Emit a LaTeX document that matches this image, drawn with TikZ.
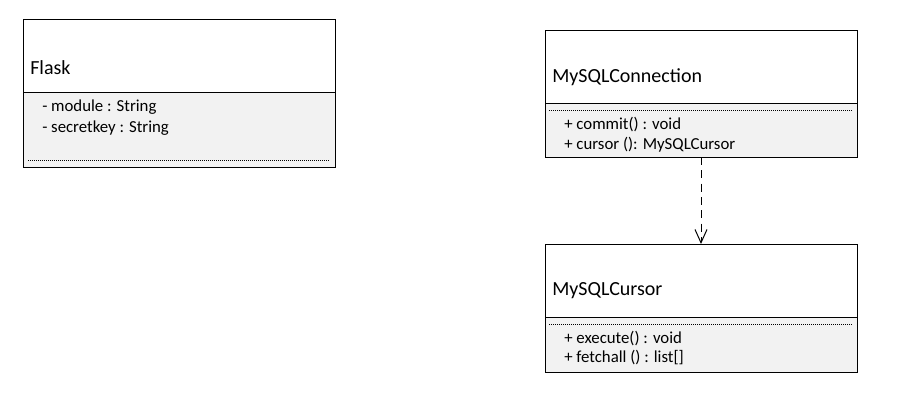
\documentclass[tikz,border=0pt]{standalone}
\usepackage{fontspec}
\setmainfont{Carlito}
\usetikzlibrary{arrows.meta}
\definecolor{bodygray}{HTML}{F2F2F2}
\tikzset{
  box/.style={draw=black, line width=0.75pt, inner sep=0pt, outer sep=0pt, anchor=north west, minimum width=234pt},
  header/.style={box, fill=white, minimum height=54.75pt},
  classbody/.style={box, fill=bodygray},
  titletext/.style={anchor=west, inner sep=0pt, font=\fontsize{15}{18}\selectfont},
  attrtext/.style={anchor=west, inner sep=0pt, font=\fontsize{12.6}{15}\selectfont},
  dotline/.style={line width=0.4pt, dash pattern=on 0.75pt off 0.75pt},
  depend/.style={line width=0.75pt, dash pattern=on 6pt off 4pt, -{Straight Barb[length=10pt,width=9pt,line width=0.75pt]}}
}
\begin{document}
\begin{tikzpicture}[x=0.75pt,y=-0.75pt]
\useasboundingbox (0,0) rectangle (908,412);
% Flask
\node[classbody, minimum height=56.25pt] (flaskbody) at (23,92) {};
\node[header] (flaskhead) at (23,19) {};
\node[titletext] (flasktitle) at (30,68) {Flask};
\node[attrtext] (flaska1) at (42,107.5) {- module : String};
\node[attrtext] (flaska2) at (42,128.5) {- secretkey : String};
\draw[dotline] (28,160) -- (330,160);
% MySQLConnection
\node[classbody, minimum height=40.5pt] (connbody) at (545,103) {};
\node[header] (connhead) at (545,30) {};
\node[titletext] (conntitle) at (552,77) {MySQLConnection};
\draw[dotline] (549,110) -- (853,110);
\node[attrtext] (conna1) at (564,124.5) {+ commit() : void};
\node[attrtext] (conna2) at (564,144.5) {+ cursor (): MySQLCursor};
% MySQLCursor
\node[classbody, minimum height=41.25pt] (curbody) at (545,317) {};
\node[header] (curhead) at (545,244) {};
\node[titletext] (curtitle) at (552,291) {MySQLCursor};
\draw[dotline] (549,324) -- (853,324);
\node[attrtext] (cura1) at (564,338.5) {+ execute() : void};
\node[attrtext] (cura2) at (564,357.5) {+ fetchall () : list[]};
% dependency
\draw[depend] (connbody.south -| 701,0) -- (curhead.north -| 701,0);
\end{tikzpicture}
\end{document}
